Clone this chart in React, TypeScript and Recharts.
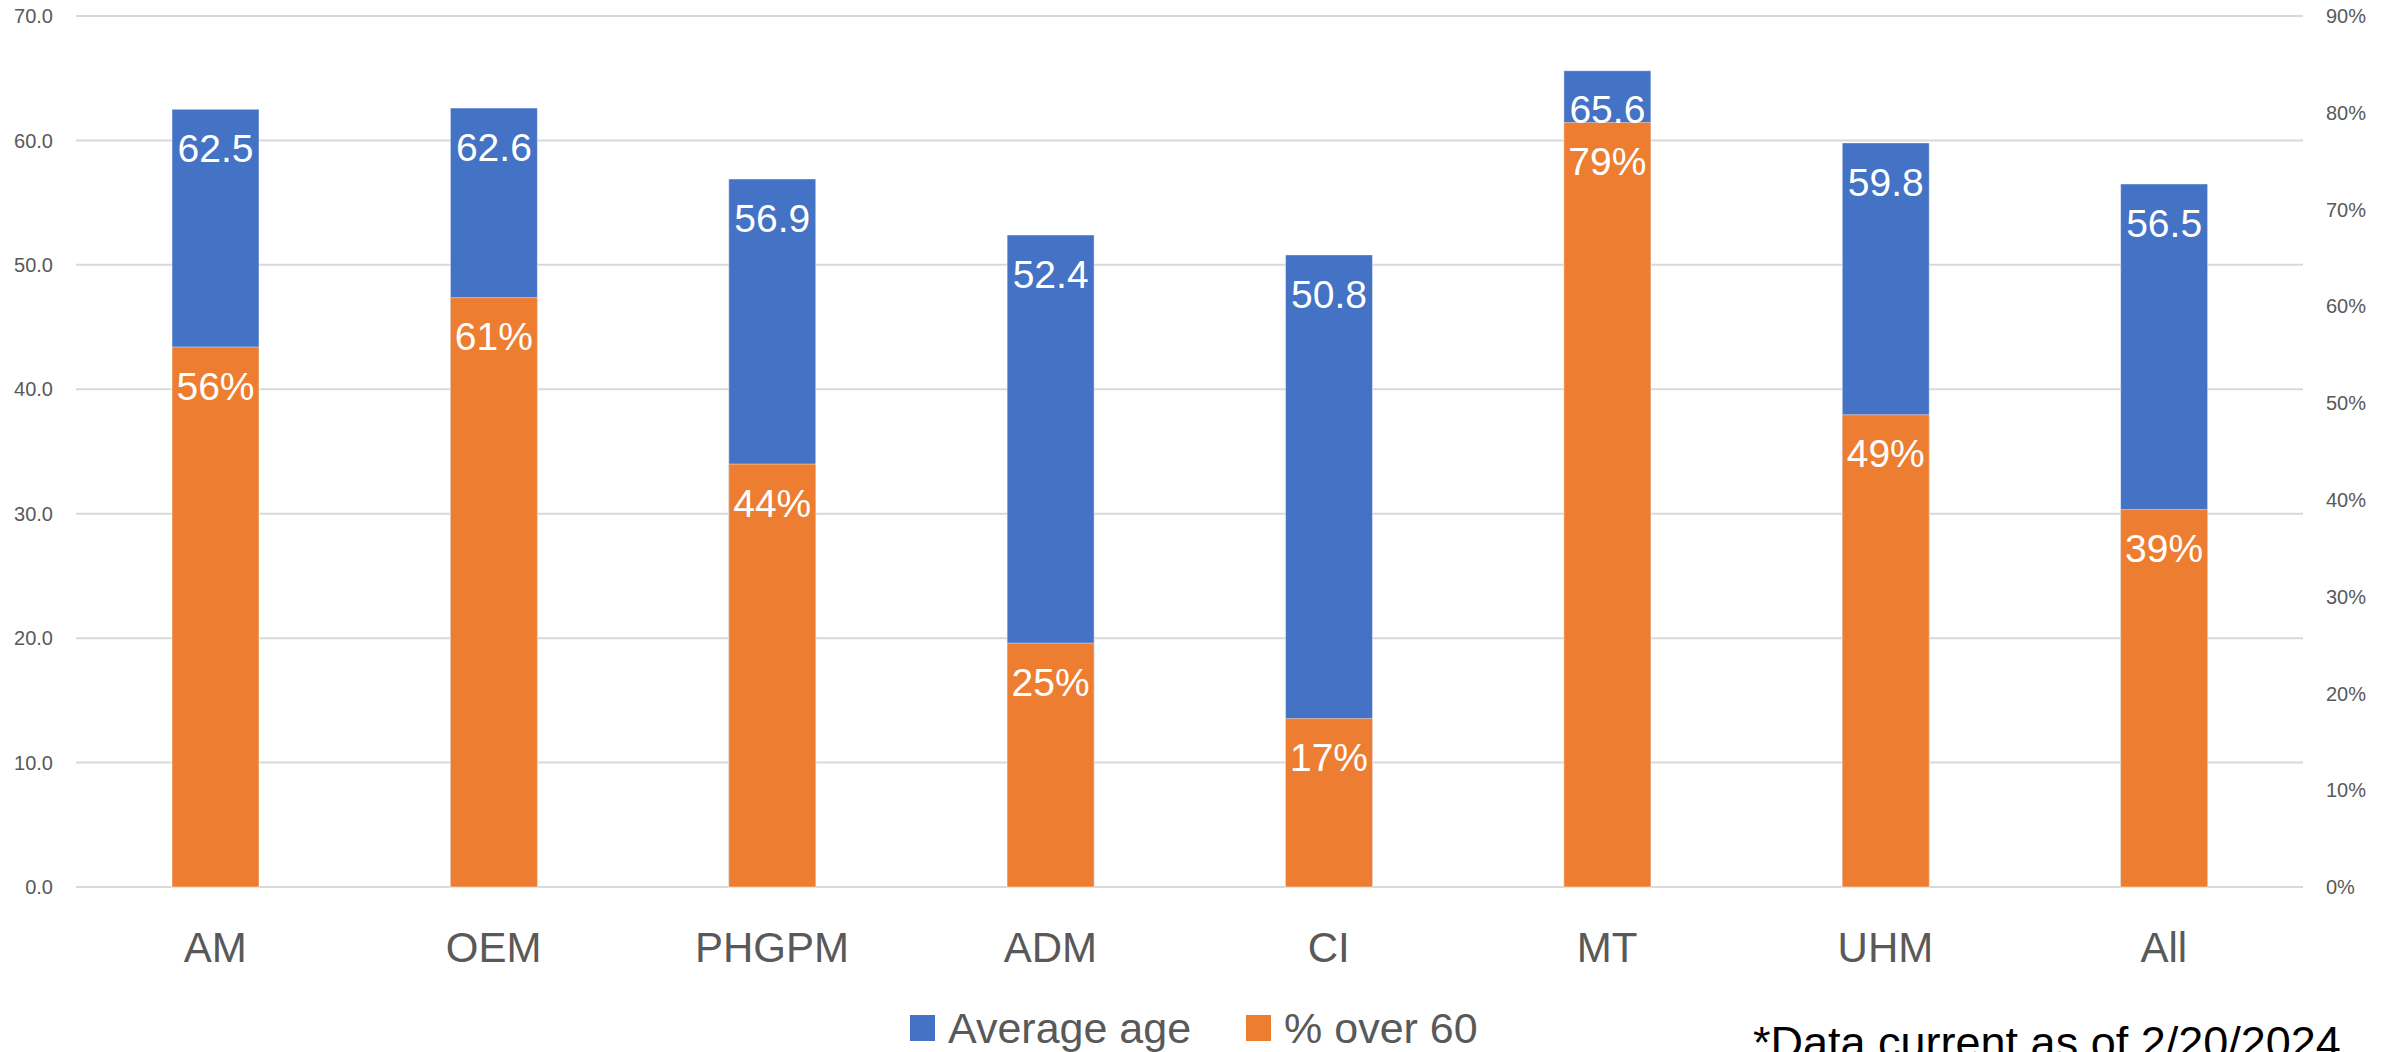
import React from 'react';
import { BarChart, Bar, XAxis, YAxis, CartesianGrid, LabelList } from 'recharts';

const categories = ['AM', 'OEM', 'PHGPM', 'ADM', 'CI', 'MT', 'UHM', 'All'];
const averageAge = [62.5, 62.6, 56.9, 52.4, 50.8, 65.6, 59.8, 56.5];
const shareOver60 = [0.558, 0.609, 0.437, 0.252, 0.174, 0.79, 0.488, 0.39];
const ageTicks = [0, 10, 20, 30, 40, 50, 60, 70];
const shareTicks = [0, 0.1, 0.2, 0.3, 0.4, 0.5, 0.6, 0.7, 0.8, 0.9];

const data = categories.map((name, i) => ({
  name,
  age: averageAge[i],
  share: shareOver60[i],
}));

const BLUE = '#4472C4';
const ORANGE = '#ED7D31';
const GREY = '#595959';

const legendItems = [
  { label: 'Average age', color: BLUE },
  { label: '% over 60', color: ORANGE },
];

const App: React.FC = () => {
  return (
    <div
      style={{
        position: 'absolute', left: 0, top: 0, width: 2397, height: 1052,
        overflow: 'hidden', background: '#fff', fontFamily: '"Liberation Sans", Arial, sans-serif',
      }}
    >
      <BarChart
        width={2397}
        height={1052}
        data={data}
        margin={{ top: 16, right: 0, bottom: 0, left: 0 }}
        barSize={87}
        barGap={-87}
      >
        <CartesianGrid yAxisId="age" vertical={false} stroke="#d9d9d9" strokeWidth={2} />
        <XAxis
          dataKey="name"
          height={165}
          axisLine={false}
          tickLine={false}
          tickSize={0}
          tickMargin={45}
          tick={{ fill: GREY, fontSize: 42 }}
          interval={0}
        />
        <YAxis
          yAxisId="age"
          orientation="left"
          width={76}
          domain={[0, 70]}
          ticks={ageTicks}
          axisLine={false}
          tickLine={false}
          tickSize={0}
          tickMargin={23}
          tick={{ fill: GREY, fontSize: 20 }}
          tickFormatter={(v: number) => v.toFixed(1)}
        />
        <YAxis
          yAxisId="share"
          orientation="right"
          width={94}
          domain={[0, 0.9]}
          ticks={shareTicks}
          axisLine={false}
          tickLine={false}
          tickSize={0}
          tickMargin={23}
          tick={{ fill: GREY, fontSize: 20, textAnchor: 'start' }}
          tickFormatter={(v: number) => `${Math.round(v * 100)}%`}
        />
        <Bar yAxisId="age" dataKey="age" name="Average age" fill={BLUE} stroke="#fff" strokeOpacity={0.45} strokeWidth={1} isAnimationActive={false}>
          <LabelList
            dataKey="age"
            position="insideTop"
            offset={25}
            fill="#fff"
            fontSize={39}
            formatter={(v: number) => v.toFixed(1)}
          />
        </Bar>
        <Bar yAxisId="share" dataKey="share" name="% over 60" fill={ORANGE} stroke="#fff" strokeOpacity={0.45} strokeWidth={1} isAnimationActive={false}>
          <LabelList
            dataKey="share"
            position="insideTop"
            offset={25}
            fill="#fff"
            fontSize={39}
            formatter={(v: number) => `${Math.round(v * 100)}%`}
          />
        </Bar>
      </BarChart>

      {/* legend */}
      <div style={{ position: 'absolute', left: 910, top: 1003, display: 'flex', alignItems: 'center', fontSize: 43, color: GREY, lineHeight: '50px', whiteSpace: 'nowrap' }}>
        {legendItems.map((item, i) => (
          <div key={item.label} style={{ display: 'flex', alignItems: 'center', marginRight: i === 0 ? 55 : 0 }}>
            <div style={{ width: 25, height: 26, background: item.color, marginRight: 13 }} />
            <span>{item.label}</span>
          </div>
        ))}
      </div>

      <div style={{ position: 'absolute', left: 1753, top: 1018, fontSize: 45, color: '#000', whiteSpace: 'nowrap', lineHeight: '50px' }}>
        *Data current as of 2/20/2024
      </div>
    </div>
  );
};

export default App;
